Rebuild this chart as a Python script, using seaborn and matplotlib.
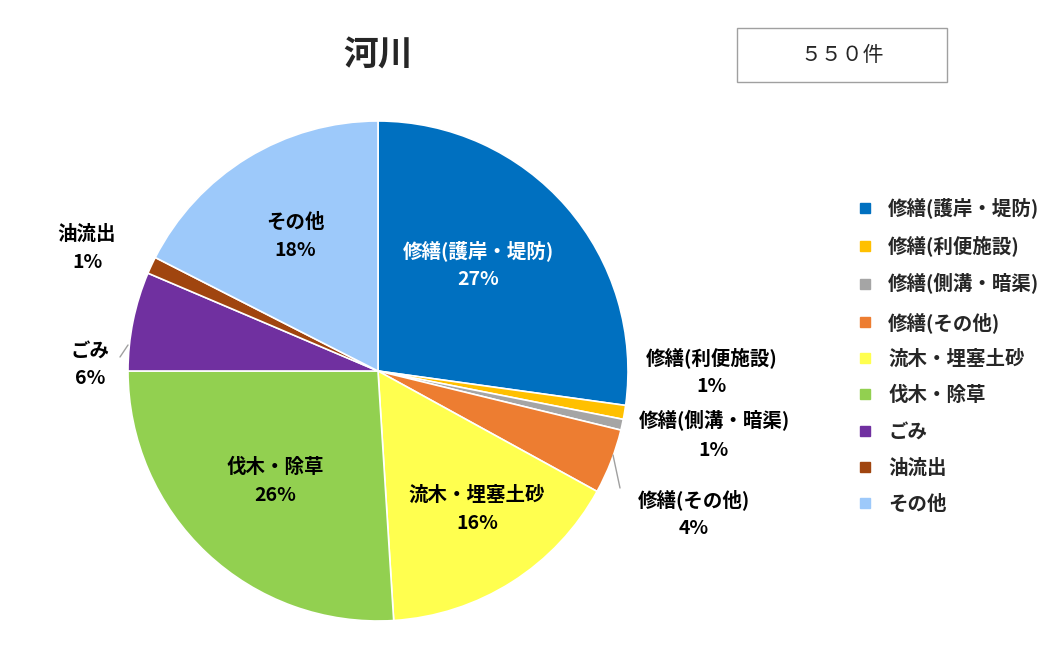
import matplotlib
matplotlib.use("Agg")
import matplotlib.pyplot as plt
import seaborn as sns
from matplotlib.lines import Line2D
from matplotlib.patches import Rectangle

categories = ["修繕(護岸・堤防)", "修繕(利便施設)", "修繕(側溝・暗渠)", "修繕(その他)",
              "流木・埋塞土砂", "伐木・除草", "ごみ", "油流出", "その他"]
values = [27.2, 0.9, 0.7, 4.2, 16.0, 26.0, 6.4, 1.1, 17.5]
pct_labels = ["27%", "1%", "1%", "4%", "16%", "26%", "6%", "1%", "18%"]
colors = ["#0070C0", "#FFC000", "#A5A5A5", "#ED7D31", "#FFFF4F",
          "#92D050", "#7030A0", "#A0450F", "#9DC9FA"]
title = "河川"
total_text = "５５０件"

sns.set_theme(style="white", font="Noto Sans CJK JP")
plt.rcParams["font.family"] = "Noto Sans CJK JP"

W, H = 1048, 657
fig = plt.figure(figsize=(W/100, H/100), dpi=100)
cx, cy, r = 378, 371, 250
ax = fig.add_axes([(cx-r)/W, 1-(cy+r)/H, 2*r/W, 2*r/H])
wedges, _ = ax.pie(values, colors=sns.color_palette(colors), startangle=90, counterclock=False,
                   wedgeprops=dict(edgecolor="white", linewidth=1.2))
ax.set_aspect("equal")
ax.set_xlim(-1, 1); ax.set_ylim(-1, 1)

def px(x, y):
    return x/W, 1-y/H

label_pos = [(478, 265, "white"), (712, 372, "black"), (714, 435, "black"), (694, 514, "black"),
             (477, 509, "black"), (275, 481, "black"), (90, 365, "black"), (87, 248, "black"),
             (295, 236, "black")]
for cat, pct, (x, y, c) in zip(categories, pct_labels, label_pos):
    fig.text(*px(x, y), f"{cat}\n{pct}", ha="center", va="center", fontsize=14,
             color=c, linespacing=1.6, fontweight="bold")

for (x1, y1, x2, y2) in [(613, 455, 620, 488), (128, 345, 120, 357)]:
    fig.add_artist(Line2D([x1/W, x2/W], [1-y1/H, 1-y2/H], color="#A0A0A0", lw=1))

fig.text(*px(378, 55), title, ha="center", va="center", fontsize=25, fontweight="bold")
fig.add_artist(Rectangle((737/W, 1-82/H), 210/W, 54/H, transform=fig.transFigure,
                         fc="white", ec="#A0A0A0", lw=1))
fig.text(*px(842, 55), total_text, ha="center", va="center", fontsize=15)

handles = [Line2D([], [], marker="s", ls="", color=c, markersize=7) for c in colors]
fig.legend(handles, categories, loc="upper left", bbox_to_anchor=(828/W, 1-180/H),
           frameon=False, fontsize=14, handletextpad=0.2, labelspacing=0.88,
           prop=dict(weight="bold", size=14))

fig.savefig("out.png", dpi=100, facecolor="white")
